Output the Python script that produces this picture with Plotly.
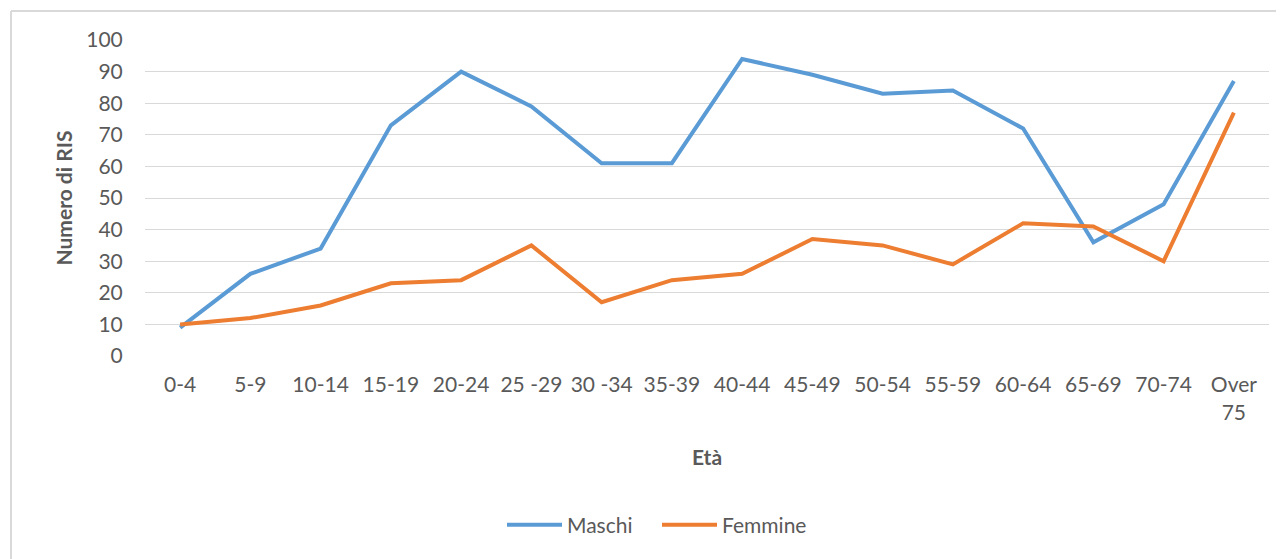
import plotly.graph_objects as go

categories = ["0-4", "5-9", "10-14", "15-19", "20-24", "25 -29", "30 -34", "35-39",
              "40-44", "45-49", "50-54", "55-59", "60-64", "65-69", "70-74", "Over<br>75"]
maschi = [9, 26, 34, 73, 90, 79, 61, 61, 94, 89, 83, 84, 72, 36, 48, 87]
femmine = [10, 12, 16, 23, 24, 35, 17, 24, 26, 37, 35, 29, 42, 41, 30, 77]
y_ticks = [0, 10, 20, 30, 40, 50, 60, 70, 80, 90, 100]

FONT = "Lato"
GRAY = "#595959"
OFF = 8  # default page body margin

fig = go.Figure()
fig.add_trace(go.Scatter(x=categories, y=maschi, mode="lines", name="Maschi",
                         line=dict(color="#5B9BD5", width=4)))
fig.add_trace(go.Scatter(x=categories, y=femmine, mode="lines", name="Femmine",
                         line=dict(color="#ED7D31", width=4)))

W, H = 1284 - OFF, 559 - OFF
L, R, T, B = 145 - OFF, 1284 - 1269, 40 - OFF, 559 - 356
pw = W - L - R
ph = H - T - B

def px_x(p):
    return (p - OFF - L) / pw

def px_y(p):
    return (H - B - (p - OFF)) / ph

fig.update_layout(
    width=W, height=H,
    margin=dict(l=L, r=R, t=T, b=B),
    paper_bgcolor="white", plot_bgcolor="white",
    font=dict(family=FONT, size=21, color=GRAY),
    showlegend=True,
    legend=dict(orientation="h", x=px_x(657), xanchor="center", y=px_y(525), yanchor="middle",
                font=dict(size=21, color=GRAY), tracegroupgap=0, itemwidth=55,
                entrywidth=85, entrywidthmode="pixels"),
    xaxis=dict(type="category", range=[-0.5, len(categories) - 0.5], showgrid=False,
               zeroline=False, showline=False,
               tickfont=dict(size=21, color=GRAY), ticks="outside", ticklen=10, tickcolor="white",
               title=dict(text="<b>Età</b>", font=dict(size=21, color=GRAY), standoff=27)),
    yaxis=dict(range=[0, 100], tickvals=y_ticks, showgrid=True, gridcolor="#D9D9D9", gridwidth=1,
               zeroline=False, showline=False,
               tickfont=dict(size=21, color=GRAY), ticks="outside", ticklen=17, tickcolor="white",
               title=dict(text="<b>Numero di RIS</b>", font=dict(size=21, color=GRAY), standoff=7)),
)

# outer chart frame (top and left edges visible)
fig.add_shape(type="line", xref="paper", yref="paper", x0=px_x(11), x1=px_x(1300),
              y0=px_y(11), y1=px_y(11), line=dict(color="#D9D9D9", width=2))
fig.add_shape(type="line", xref="paper", yref="paper", x0=px_x(11), x1=px_x(11),
              y0=px_y(11), y1=px_y(580), line=dict(color="#D9D9D9", width=2))

fig.write_html("out.html")
